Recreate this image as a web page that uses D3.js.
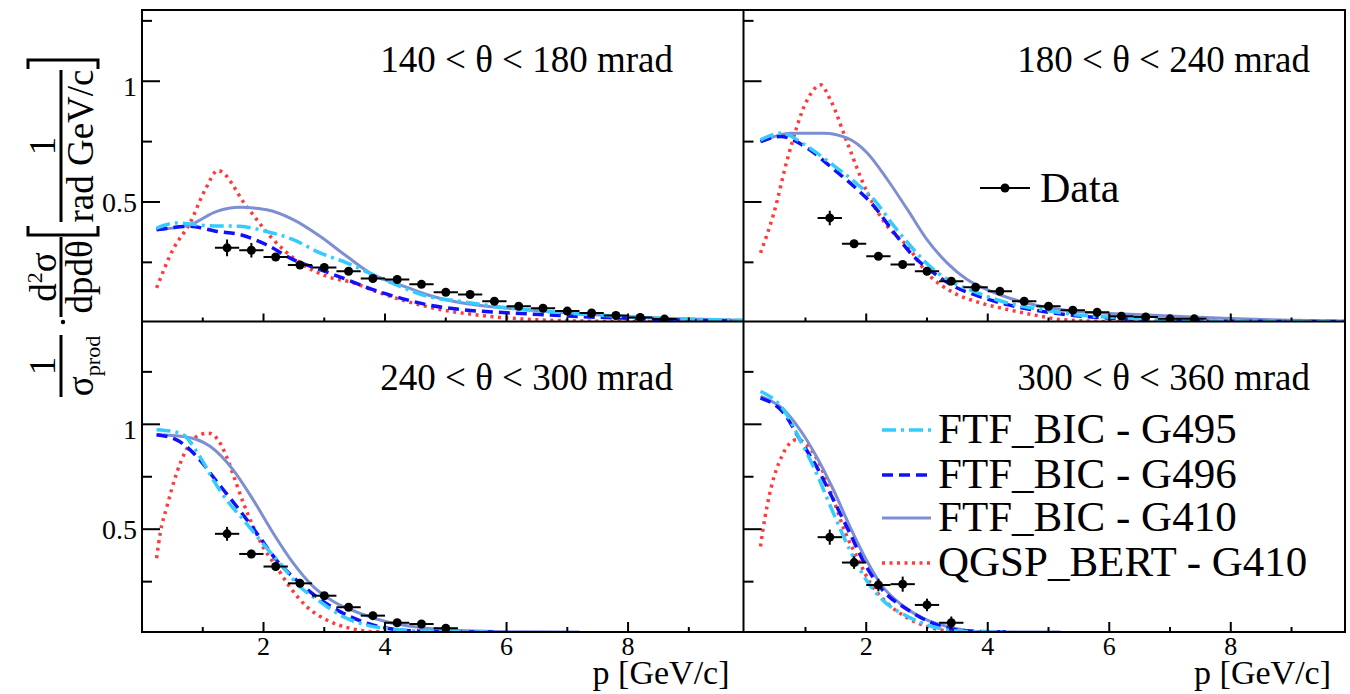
<!DOCTYPE html>
<html><head><meta charset="utf-8">
<script src="https://cdn.jsdelivr.net/npm/d3@7"></script>
<style>body{margin:0;background:#fff}svg{display:block}text{font-family:"Liberation Serif","Times New Roman",serif;fill:#000}</style>
</head><body><svg id="c" width="1350" height="694"></svg>
<script>
// ---------- data ----------
const panelLabels = ["140 < θ < 180 mrad","180 < θ < 240 mrad","240 < θ < 300 mrad","300 < θ < 360 mrad"];
const modelNames = ["FTF_BIC - G495","FTF_BIC - G496","FTF_BIC - G410","QGSP_BERT - G410"];
const xTickValues = [1,2,3,4,5,6,7,8,9];
const xTickLabels = ["2","4","6","8"];
const yTickValues = [0.25,0.5,0.75,1,1.25];
const yTickLabels = ["0.5","1"];

// Data points (p, value, y-error) per panel
const dataP_140 = [1.4,1.8,2.2,2.6,3.0,3.4,3.8,4.2,4.6,5.0,5.4,5.8,6.2,6.6,7.0,7.4,7.8,8.2,8.6];
const dataV_140 = [0.310,0.300,0.272,0.239,0.229,0.213,0.183,0.179,0.159,0.126,0.117,0.089,0.068,0.060,0.048,0.040,0.030,0.022,0.015];
const dataE_140 = [0.035,0.030,0.015,0.012,0.012,0.010,0.010,0.010,0.010,0.008,0.008,0.007,0.006,0.005,0.005,0.004,0.004,0.003,0.003];
const dataP_180 = [1.4,1.8,2.2,2.6,3.0,3.4,3.8,4.2,4.6,5.0,5.4,5.8,6.2,6.6,7.0,7.4];
const dataV_180 = [0.434,0.327,0.275,0.241,0.213,0.172,0.147,0.130,0.089,0.068,0.052,0.043,0.027,0.024,0.016,0.016];
const dataE_180 = [0.030,0.015,0.012,0.010,0.010,0.010,0.008,0.008,0.007,0.006,0.005,0.005,0.004,0.004,0.003,0.003];
const dataP_240 = [1.4,1.8,2.2,2.6,3.0,3.4,3.8,4.2,4.6,5.0];
const dataV_240 = [0.478,0.382,0.322,0.242,0.183,0.128,0.088,0.054,0.048,0.028];
const dataE_240 = [0.033,0.020,0.020,0.018,0.015,0.012,0.010,0.008,0.008,0.006];
const dataP_300 = [1.4,1.8,2.2,2.6,3.0,3.4];
const dataV_300 = [0.462,0.341,0.234,0.238,0.139,0.054];
const dataE_300 = [0.036,0.030,0.030,0.036,0.030,0.030];

// Model curves: [p, value]
const g495_140 = [[0.24,0.392],[0.57,0.413],[1.06,0.402],[1.61,0.399],[2.05,0.378],[2.49,0.344],[2.93,0.289],[3.37,0.248],[3.8,0.199],[4.24,0.151],[4.68,0.110],[5.23,0.089],[6.0,0.062],[7.0,0.040],[8.0,0.025],[9.0,0.015],[9.88,0.010]];
const g496_140 = [[0.24,0.385],[0.79,0.399],[1.23,0.378],[1.61,0.365],[2.05,0.323],[2.49,0.261],[2.93,0.220],[3.37,0.179],[3.8,0.137],[4.24,0.103],[4.68,0.075],[5.23,0.055],[6.0,0.041],[6.55,0.034],[7.0,0.028],[8.0,0.018],[9.0,0.010],[9.88,0.007]];
const g410_140 = [[0.24,0.385],[0.79,0.406],[1.23,0.461],[1.61,0.478],[2.05,0.468],[2.49,0.427],[2.93,0.358],[3.37,0.275],[3.8,0.199],[4.24,0.158],[4.68,0.117],[5.12,0.089],[5.67,0.068],[6.27,0.055],[7.0,0.040],[8.0,0.025],[9.0,0.015],[9.88,0.010]];
const qgsp_140 = [[0.24,0.144],[0.51,0.303],[0.79,0.413],[1.04,0.551],[1.25,0.630],[1.72,0.482],[2.16,0.344],[2.6,0.248],[3.04,0.192],[3.48,0.165],[3.91,0.124],[4.35,0.089],[4.9,0.055],[5.45,0.034],[6.0,0.020],[7.0,0.008],[8.0,0.003],[9.88,0.001]];

const g495_180 = [[0.26,0.757],[0.59,0.785],[1.03,0.730],[1.41,0.661],[1.8,0.585],[2.13,0.509],[2.46,0.399],[2.78,0.303],[3.11,0.220],[3.44,0.165],[3.77,0.130],[4.32,0.082],[4.87,0.055],[5.42,0.034],[6.24,0.020],[7.0,0.012],[8.0,0.007],[9.88,0.004]];
const g496_180 = [[0.26,0.750],[0.59,0.771],[1.03,0.723],[1.41,0.647],[1.8,0.564],[2.13,0.482],[2.46,0.372],[2.78,0.275],[3.11,0.206],[3.44,0.151],[3.77,0.117],[4.32,0.075],[4.87,0.048],[5.42,0.030],[6.24,0.016],[7.0,0.010],[8.0,0.006],[9.88,0.003]];
const g410_180 = [[0.26,0.750],[0.76,0.785],[1.3,0.785],[1.69,0.764],[2.02,0.702],[2.35,0.592],[2.68,0.468],[3.0,0.344],[3.33,0.248],[3.66,0.179],[3.99,0.137],[4.43,0.096],[4.87,0.068],[5.42,0.048],[6.24,0.036],[7.0,0.028],[8.0,0.017],[9.0,0.010],[9.88,0.007]];
const qgsp_180 = [[0.26,0.289],[0.48,0.454],[0.70,0.675],[1.03,0.923],[1.25,0.985],[1.41,0.923],[1.69,0.744],[2.02,0.537],[2.35,0.399],[2.68,0.316],[3.0,0.206],[3.44,0.124],[3.88,0.082],[4.32,0.055],[4.87,0.027],[5.2,0.013],[6.0,0.004],[7.0,0.001]];

const g495_240 = [[0.24,0.974],[0.63,0.958],[0.95,0.847],[1.17,0.736],[1.39,0.640],[1.67,0.545],[1.94,0.449],[2.27,0.338],[2.6,0.226],[2.93,0.155],[3.31,0.083],[3.70,0.043],[4.24,0.020],[4.8,0.012],[5.8,0.01]];
const g496_240 = [[0.24,0.950],[0.57,0.926],[0.9,0.847],[1.23,0.727],[1.56,0.608],[1.89,0.481],[2.21,0.354],[2.54,0.258],[2.87,0.178],[3.26,0.107],[3.7,0.052],[4.24,0.020],[4.8,0.012],[5.8,0.01]];
const g410_240 = [[0.24,0.950],[0.68,0.942],[1.12,0.895],[1.5,0.783],[1.83,0.640],[2.16,0.481],[2.49,0.338],[2.82,0.226],[3.15,0.155],[3.59,0.099],[4.02,0.059],[4.57,0.032],[5.34,0.016],[6.2,0.011],[7.2,0.01]];
const qgsp_240 = [[0.24,0.362],[0.30,0.481],[0.41,0.608],[0.57,0.767],[0.73,0.879],[0.9,0.942],[1.09,0.958],[1.25,0.926],[1.39,0.847],[1.53,0.736],[1.67,0.624],[1.83,0.513],[1.99,0.417],[2.21,0.322],[2.43,0.226],[2.71,0.131],[3.04,0.067],[3.42,0.028],[3.86,0.011],[4.5,0.01]];

const g495_300 = [[0.26,1.157],[0.64,1.07],[0.91,0.927],[1.18,0.767],[1.46,0.576],[1.73,0.401],[2.0,0.258],[2.27,0.163],[2.69,0.083],[3.1,0.035],[3.64,0.012],[4.3,0.01]];
const g496_300 = [[0.26,1.125],[0.64,1.054],[0.91,0.927],[1.18,0.799],[1.46,0.640],[1.73,0.481],[2.0,0.322],[2.27,0.210],[2.69,0.115],[3.1,0.051],[3.64,0.016],[4.3,0.01]];
const g410_300 = [[0.26,1.133],[0.64,1.070],[0.91,0.974],[1.18,0.847],[1.46,0.688],[1.73,0.513],[2.0,0.354],[2.27,0.226],[2.55,0.147],[2.94,0.075],[3.35,0.035],[3.91,0.011],[5.2,0.01]];
const qgsp_300 = [[0.26,0.417],[0.30,0.497],[0.44,0.704],[0.61,0.847],[0.85,0.926],[1.05,0.895],[1.25,0.799],[1.46,0.640],[1.66,0.481],[1.87,0.354],[2.07,0.242],[2.35,0.147],[2.69,0.075],[3.1,0.028],[3.5,0.011],[4.2,0.01]];

const panelData = [
  {p:dataP_140,v:dataV_140,e:dataE_140,models:[g495_140,g496_140,g410_140,qgsp_140]},
  {p:dataP_180,v:dataV_180,e:dataE_180,models:[g495_180,g496_180,g410_180,qgsp_180]},
  {p:dataP_240,v:dataV_240,e:dataE_240,models:[g495_240,g496_240,g410_240,qgsp_240]},
  {p:dataP_300,v:dataV_300,e:dataE_300,models:[g495_300,g496_300,g410_300,qgsp_300]}
];
const binHalfWidth = 0.2;

// ---------- styles ----------
const modelColors = ["#33ccff","#1010ff","#7d8fd3","#ff3b3b"];
const modelDash = ["14 5 3 5","11 6",null,"3 4.5"];
const modelWidth = [3.5,3.5,3,3.5];

// ---------- layout ----------
const svg = d3.select("#c");
const cols = [[142,743.5],[743.5,1345]];
const rows = [[10,321.5],[321.5,632]];
const xDomains = [[0,9.9],[-0.02,9.88]];
const yDomains = [[0.005,1.295],[0.01,1.49]];

const defs = svg.append("defs");

panelData.forEach((pd, i) => {
  const c = i % 2, r = Math.floor(i / 2);
  const x = d3.scaleLinear().domain(xDomains[c]).range(cols[c]);
  const y = d3.scaleLinear().domain(yDomains[r]).range([rows[r][1], rows[r][0]]);
  const g = svg.append("g");
  const clipId = "clip" + i;
  defs.append("clipPath").attr("id", clipId).append("rect")
    .attr("x", cols[c][0]).attr("y", rows[r][0])
    .attr("width", cols[c][1]-cols[c][0]).attr("height", rows[r][1]-rows[r][0]);
  const plot = g.append("g").attr("clip-path", `url(#${clipId})`);

  // model curves
  const line = d3.line().x(d => x(d[0])).y(d => y(Math.max(d[1], yDomains[r][0]))).curve(d3.curveMonotoneX);
  [3,2,1,0].forEach(m => {
    plot.append("path").datum(pd.models[m]).attr("d", line)
      .attr("fill","none").attr("stroke", modelColors[m])
      .attr("stroke-width", modelWidth[m])
      .attr("stroke-dasharray", modelDash[m]);
  });

  // data points
  const pts = pd.p.map((p, k) => ({p, v: pd.v[k], e: pd.e[k]}));
  const dg = plot.append("g");
  dg.selectAll("line.h").data(pts).enter().append("line")
    .attr("x1", d => x(d.p - binHalfWidth)).attr("x2", d => x(d.p + binHalfWidth))
    .attr("y1", d => y(d.v)).attr("y2", d => y(d.v))
    .attr("stroke","#000").attr("stroke-width",2);
  dg.selectAll("line.v").data(pts).enter().append("line")
    .attr("x1", d => x(d.p)).attr("x2", d => x(d.p))
    .attr("y1", d => y(d.v - d.e)).attr("y2", d => y(d.v + d.e))
    .attr("stroke","#000").attr("stroke-width",2);
  dg.selectAll("circle").data(pts).enter().append("circle")
    .attr("cx", d => x(d.p)).attr("cy", d => y(d.v)).attr("r", 4.5).attr("fill","#000");

  // ticks
  const yb = rows[r][1];
  xTickValues.forEach(t => {
    const major = t % 2 === 0;
    const len = r === 0 ? (major ? 8 : 4) : (major ? 10 : 5);
    g.append("line").attr("x1", x(t)).attr("x2", x(t)).attr("y1", yb).attr("y2", yb - len)
      .attr("stroke","#000").attr("stroke-width",2);
  });
  yTickValues.forEach(t => {
    const major = (t === 0.5 || t === 1);
    const len = major ? 18 : 10;
    g.append("line").attr("x1", cols[c][0]).attr("x2", cols[c][0] + len).attr("y1", y(t)).attr("y2", y(t))
      .attr("stroke","#000").attr("stroke-width",2);
  });
  if (r === 1) {
    xTickLabels.forEach(l => {
      g.append("text").attr("x", x(+l)).attr("y", 655).attr("text-anchor","middle")
        .attr("font-size", 26).text(l);
    });
    g.append("text").attr("x", cols[c][1] - 14).attr("y", 684).attr("text-anchor","end")
      .attr("font-size", 34).text("p [GeV/c]");
  }
  if (c === 0) {
    yTickLabels.forEach(l => {
      g.append("text").attr("x", 137).attr("y", y(+l) + (l === "1" ? 15 : 10)).attr("text-anchor","end")
        .attr("font-size", 28).text(l);
    });
  }
  // panel label
  g.append("text").attr("x", c === 0 ? 673 : 1310).attr("y", r === 0 ? 72 : 390)
    .attr("text-anchor","end").attr("font-size", 37).text(panelLabels[i]);
});

// frame
svg.append("rect").attr("x",142).attr("y",10).attr("width",1345-142).attr("height",632-10)
  .attr("fill","none").attr("stroke","#000").attr("stroke-width",2);
svg.append("line").attr("x1",743.5).attr("x2",743.5).attr("y1",10).attr("y2",632).attr("stroke","#000").attr("stroke-width",2);
svg.append("line").attr("x1",142).attr("x2",1345).attr("y1",321.5).attr("y2",321.5).attr("stroke","#000").attr("stroke-width",2);

// legend: Data
const lg = svg.append("g");
lg.append("line").attr("x1",980).attr("x2",1030).attr("y1",188).attr("y2",188).attr("stroke","#000").attr("stroke-width",2);
lg.append("circle").attr("cx",1005).attr("cy",188).attr("r",4.5).attr("fill","#000");
lg.append("text").attr("x",1040).attr("y",202).attr("font-size",42).text("Data");

// legend: models
const legY = [430,475,518,563];
modelNames.forEach((n, m) => {
  lg.append("line").attr("x1",882).attr("x2",931).attr("y1",legY[m]).attr("y2",legY[m])
    .attr("stroke",modelColors[m]).attr("stroke-width",modelWidth[m]).attr("stroke-dasharray",modelDash[m]);
  lg.append("text").attr("x",938).attr("y",legY[m]+13).attr("font-size",43).text(n);
});

// y-axis title (rotated formula)
const yt = svg.append("g").attr("transform","translate(61,230) rotate(-90)");
const fs = 37;
function frac(u, len, num, den, numSize, denSub) {
  yt.append("line").attr("x1",u-len/2).attr("x2",u+len/2).attr("y1",0).attr("y2",0).attr("stroke","#000").attr("stroke-width",3);
  yt.append("text").attr("x",u).attr("y",-6).attr("text-anchor","middle").attr("font-size",numSize).text(num);
  const t = yt.append("text").attr("x",u).attr("y",32).attr("text-anchor","middle").attr("font-size",fs);
  t.append("tspan").text(den);
  if (denSub) t.append("tspan").attr("font-size",22).attr("dy",7).text(denSub);
}
frac(-136, 62, "1", "σ", fs, "prod");
yt.append("circle").attr("cx",-92).attr("cy",2).attr("r",2.2).attr("fill","#000");
// d²σ / dpdθ
yt.append("line").attr("x1",-87).attr("x2",-7).attr("y1",0).attr("y2",0).attr("stroke","#000").attr("stroke-width",3);
const nt = yt.append("text").attr("x",-47).attr("y",-5).attr("text-anchor","middle").attr("font-size",fs);
nt.append("tspan").text("d");
nt.append("tspan").attr("font-size",22).attr("dy",-14).text("2");
nt.append("tspan").attr("dy",14).text("σ");
yt.append("text").attr("x",-47).attr("y",31).attr("text-anchor","middle").attr("font-size",fs).text("dpdθ");
// brackets
function bracket(u, dir) {
  yt.append("path").attr("d",`M${u+dir*9},-33 L${u},-33 L${u},37 L${u+dir*9},37`)
    .attr("fill","none").attr("stroke","#000").attr("stroke-width",3);
}
bracket(-5, 1);
frac(84, 152, "1", "rad GeV/c", fs, null);
bracket(170, -1);
</script></body></html>
